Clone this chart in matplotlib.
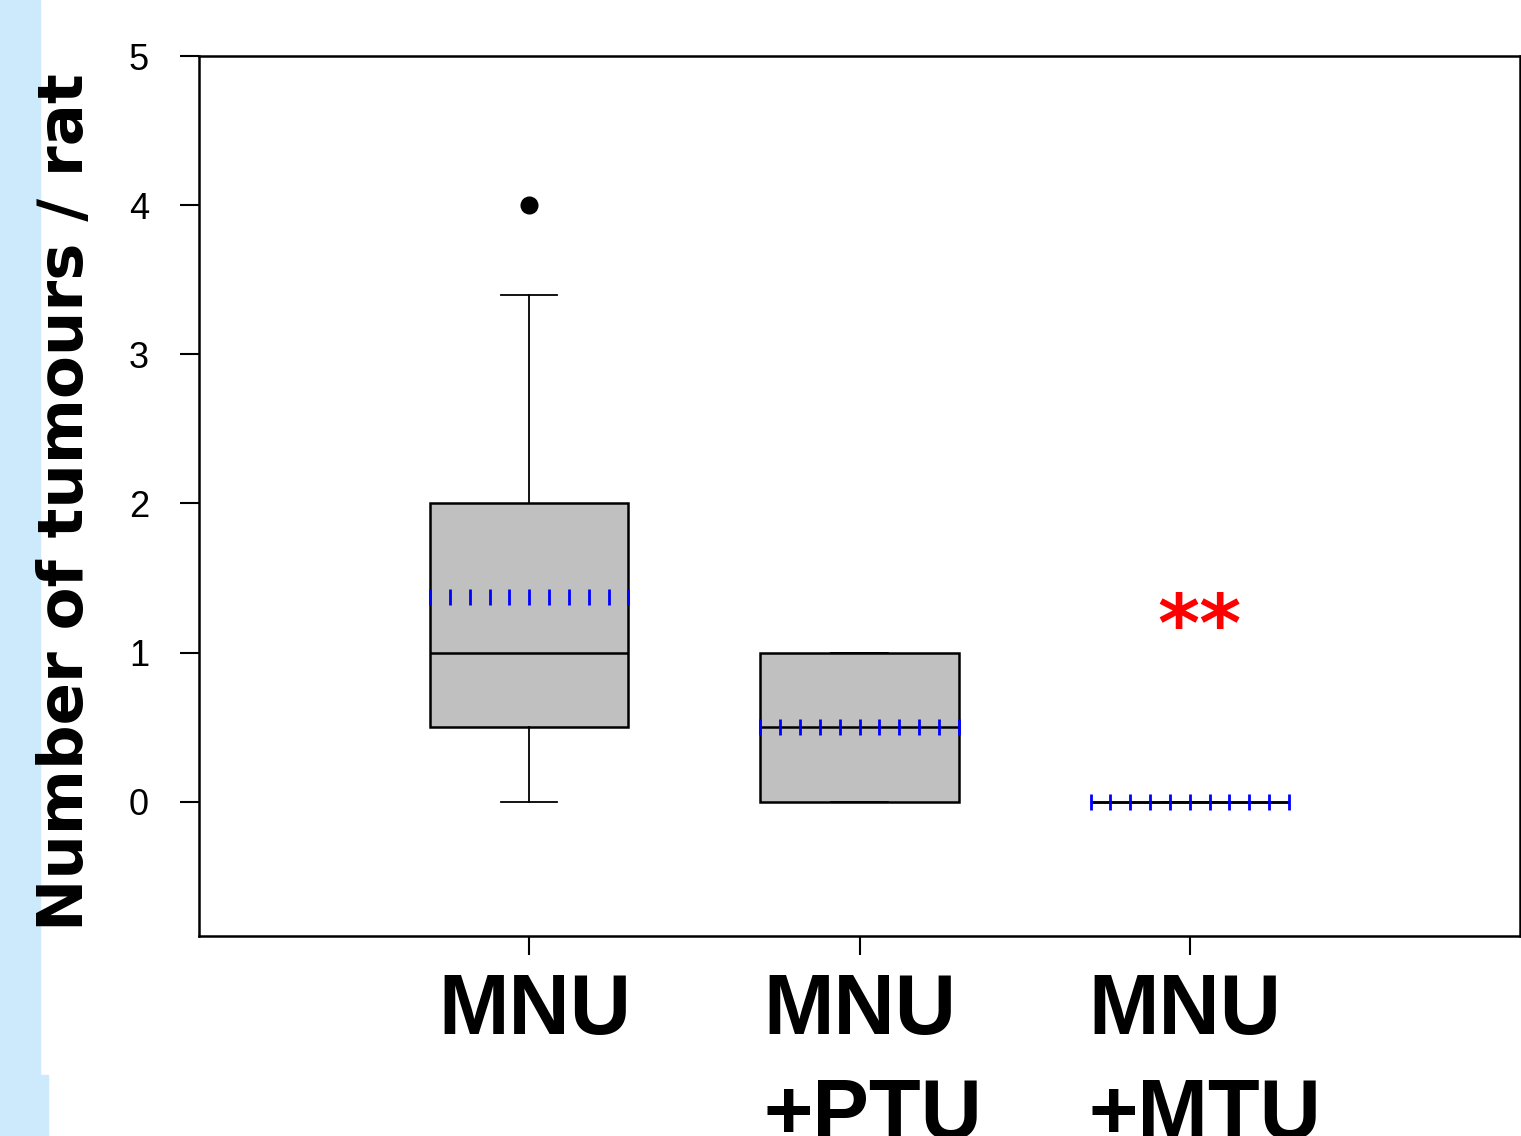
import numpy as np
import matplotlib
matplotlib.use("Agg")
import matplotlib.pyplot as plt
from matplotlib.patches import Rectangle
from matplotlib.transforms import ScaledTranslation

# Box statistics
categories = ["MNU", "MNU\n+PTU", "MNU\n+MTU"]
whislo = [0.0, 0.0, 0.0]
q1 = [0.5, 0.0, 0.0]
medians = [1.0, 0.5, 0.0]
q3 = [2.0, 1.0, 0.0]
whishi = [3.4, 1.0, 0.0]
means = [1.37, 0.5, 0.0]
fliers = [[4.0], [], []]

positions = [1, 2, 3]
box_width = 0.6

plt.rcParams['font.family'] = ['Liberation Sans', 'DejaVu Sans']

fig = plt.figure(figsize=(15.21, 11.36), dpi=100)

# light blue strip on the left edge
fig.patches.append(Rectangle((0, 0), 40 / 1521, 1, transform=fig.transFigure,
                             color="#cdeafd", zorder=0))
fig.patches.append(Rectangle((0, 0), 48 / 1521, 61 / 1136, transform=fig.transFigure,
                             color="#cdeafd", zorder=0))

ax = fig.add_axes([199 / 1521, 200 / 1136, 1321 / 1521, 880 / 1136])

stats = []
for i in range(len(categories)):
    stats.append(dict(med=medians[i], q1=q1[i], q3=q3[i], whislo=whislo[i],
                      whishi=whishi[i], fliers=fliers[i], label=categories[i]))

ax.bxp(stats, positions=positions, widths=box_width, patch_artist=True,
       showcaps=True, showfliers=True,
       boxprops=dict(facecolor="#c0c0c0", edgecolor="black", linewidth=1.8),
       medianprops=dict(color="black", linewidth=1.8),
       whiskerprops=dict(color="black", linewidth=1.3),
       capprops=dict(color="black", linewidth=1.3),
       capwidths=0.17,
       flierprops=dict(marker="o", markerfacecolor="black", markeredgecolor="black",
                       markersize=12))

# mean lines drawn as blue tick marks across each box
for p, m in zip(positions, means):
    xs = np.linspace(p - box_width / 2, p + box_width / 2, 11)
    ax.plot(xs, [m] * len(xs), linestyle="none", marker="|", color="blue",
            markersize=11, markeredgewidth=2, zorder=5)

ax.text(3.03, 1.16, "**", color="red", fontsize=58, fontweight="bold",
        family="DejaVu Sans", ha="center", va="center")

ax.set_xlim(0, 4)
ax.set_ylim(-0.9, 5)
ax.set_yticks([0, 1, 2, 3, 4, 5])
ax.set_yticklabels(["0", "1", "2", "3", "4", "5"], fontsize=26)
ax.set_xticks(positions)
ax.set_xticklabels(categories, fontsize=61, fontweight="bold",
                   multialignment="left", linespacing=1.4)
ax.tick_params(axis="y", direction="out", length=14, width=1.5, pad=22)
ax.tick_params(axis="x", direction="out", length=14, width=1.5, pad=12)
for s in ax.spines.values():
    s.set_linewidth(1.8)

# first line of each label sits centred on its tick
for lab, dx in zip(ax.get_xticklabels(), [6, 13, 15]):
    lab.set_transform(lab.get_transform() + ScaledTranslation(dx / 100, 0, fig.dpi_scale_trans))

fig.text(66 / 1521, 0.558, "Number of tumours / rat", rotation=90,
         fontsize=45, fontweight="bold", family="DejaVu Sans",
         ha="center", va="center")

fig.savefig("out.png", dpi=100)
